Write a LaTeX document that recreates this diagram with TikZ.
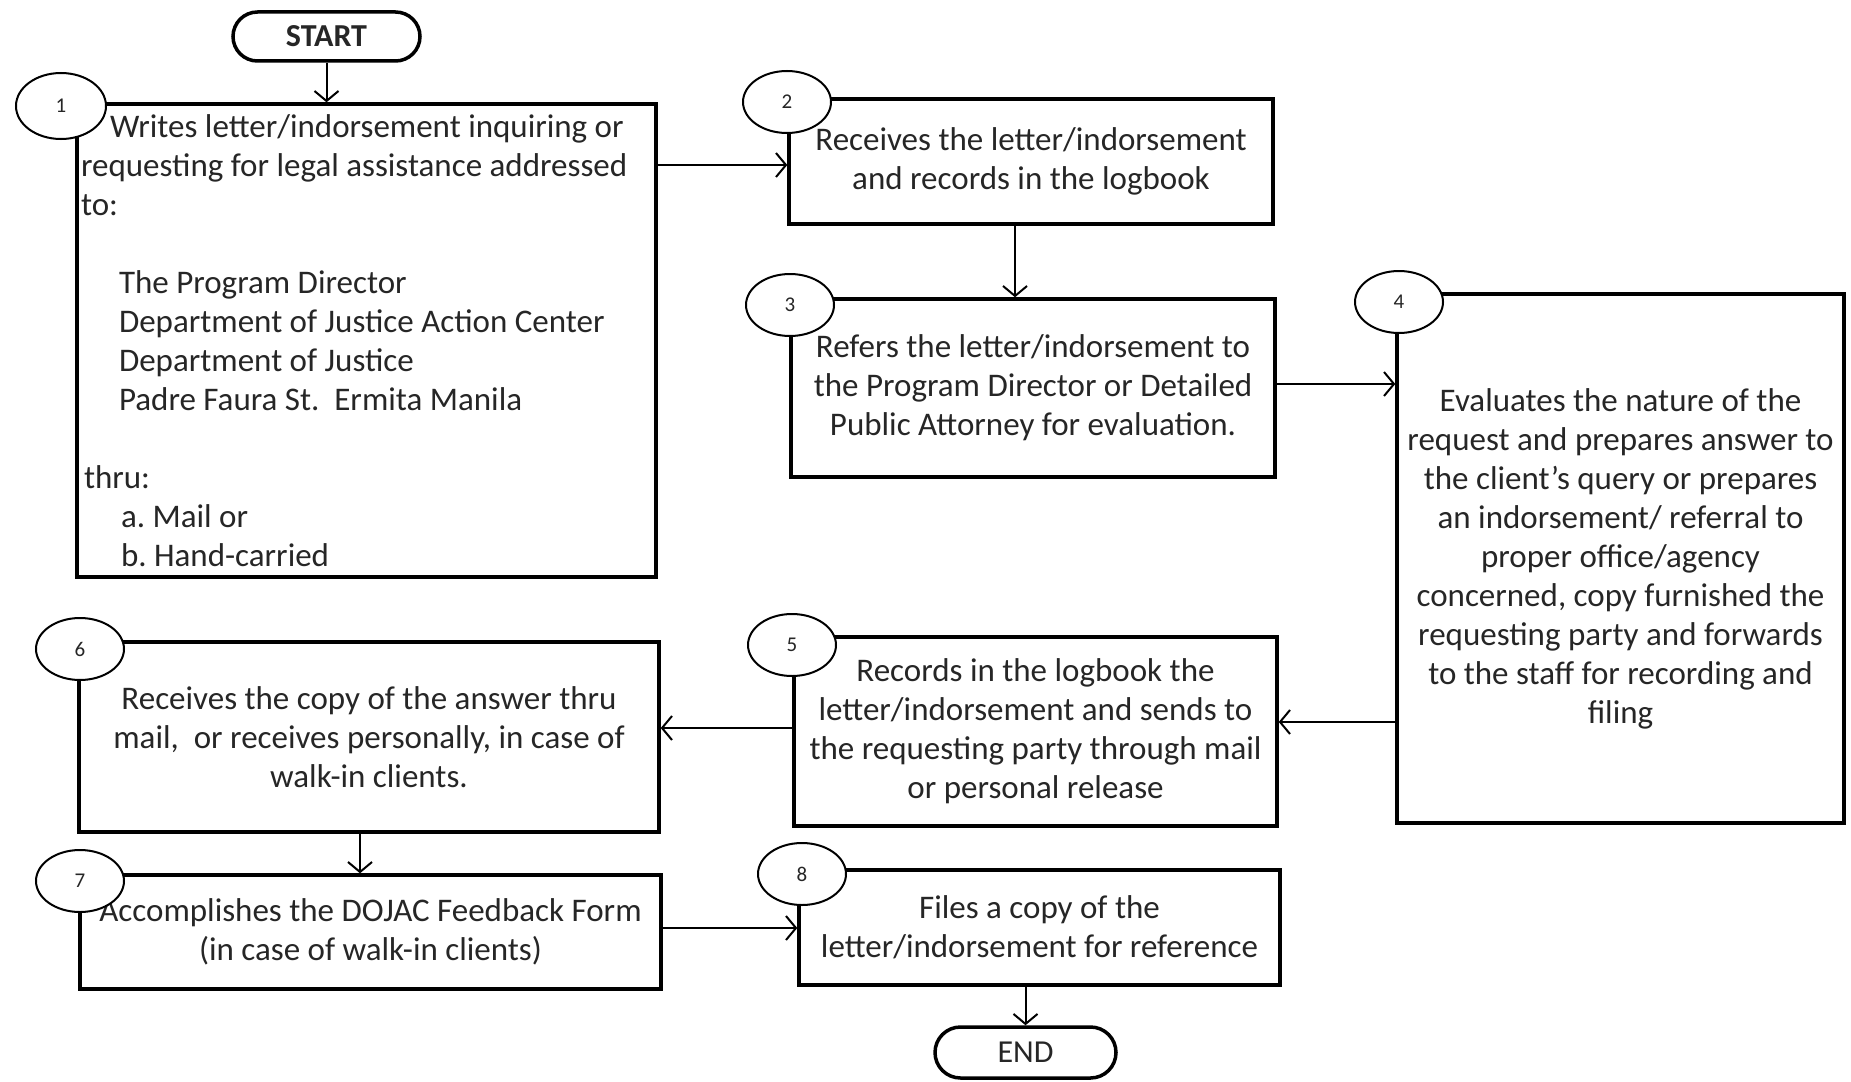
\documentclass[tikz,border=0pt]{standalone}
\usepackage{fontspec}
\setmainfont{Carlito}
\usetikzlibrary{arrows.meta,shapes.geometric,shapes.misc}
\definecolor{txt}{RGB}{38,38,38}
\begin{document}
\begin{tikzpicture}[x=1pt,y=-1pt,
  box/.style={draw=black, line width=3.4pt, fill=white, inner sep=0pt, text=txt,
    font=\fontsize{33}{39}\selectfont, align=center},
  num/.style={draw=black, ellipse, line width=2pt, fill=white, minimum width=88pt,
    minimum height=62pt, inner sep=0pt, text=txt, font=\fontsize{21}{21}\selectfont},
  term/.style={draw=black, rounded rectangle, line width=3.5pt, fill=white, inner sep=0pt,
    text=txt, font=\fontsize{32}{32}\selectfont},
  flow/.style={draw=black, line width=2pt, -{Straight Barb[length=10pt,width=24pt]}}]
\useasboundingbox[fill=white] (0,0) rectangle (1851,1081);

% terminals
\node[term, font=\fontsize{32}{32}\selectfont\bfseries, minimum width=187pt, minimum height=49pt] (st) at (326.5,36.5) {START};
\node[term, minimum width=181pt, minimum height=51pt] (en) at (1025.5,1052.5) {END};

% boxes
\node[box, minimum width=579pt, minimum height=473pt, align=left, text width=571pt] (b1) at (366.5,340.5)
 {\spaceskip=0pt\xspaceskip=0pt\frenchspacing
  \hspace*{29pt}Writes letter/indorsement inquiring or\\
  requesting for legal assistance addressed\\
  to:\\
  \mbox{}\\
  \hspace*{38pt}The Program Director\\
  \hspace*{38pt}Department of Justice Action Center\\
  \hspace*{38pt}Department of Justice\\
  \hspace*{38pt}Padre Faura St.\ \ Ermita Manila\\
  \mbox{}\\
  \hspace*{3pt}thru:\\
  \hspace*{40pt}a. Mail or\\
  \hspace*{40pt}b. Hand-carried};
\node[box, minimum width=484pt, minimum height=125pt] (b2) at (1031,161.5)
 {Receives the letter/indorsement\\and records in the logbook};
\node[box, minimum width=484pt, minimum height=178pt] (b3) at (1033,388)
 {Refers the letter/indorsement to\\the Program Director or Detailed\\Public Attorney for evaluation.};
\node[box, minimum width=447pt, minimum height=529pt] (b4) at (1620.5,558.5)
 {Evaluates the nature of the\\request and prepares answer to\\the client's query or prepares\\an indorsement/ referral to\\proper office/agency\\concerned, copy furnished the\\requesting party and forwards\\to the staff for recording and\\filing};
\node[box, minimum width=483pt, minimum height=189pt] (b5) at (1035.5,731.5)
 {Records in the logbook the\\letter/indorsement and sends to\\the requesting party through mail\\or personal release};
\node[box, minimum width=580pt, minimum height=190pt] (b6) at (369,737)
 {Receives the copy of the answer thru\\mail,\ \ or receives personally, in case of\\walk-in clients.};
\node[box, minimum width=581pt, minimum height=114pt] (b7) at (370.5,932)
 {Accomplishes the DOJAC Feedback Form\\(in case of walk-in clients)};
\node[box, minimum width=481pt, minimum height=115pt] (b8) at (1039.5,927.5)
 {Files a copy of the\\letter/indorsement for reference};

% step numbers
\node[num, minimum width=90pt, minimum height=66pt] (c1) at (61,106) {1};
\node[num] (c2) at (787,102) {2};
\node[num] (c3) at (790,305) {3};
\node[num] (c4) at (1399,302) {4};
\node[num] (c5) at (792,645) {5};
\node[num] (c6) at (80,649) {6};
\node[num] (c7) at (80,881) {7};
\node[num] (c8) at (802,874) {8};

% helper coordinates for connector heights / columns
\coordinate (y12) at (0,165);
\coordinate (x23) at (1015,0);
\coordinate (y34) at (0,384);
\coordinate (y45) at (0,722);
\coordinate (y56) at (0,728);
\coordinate (x67) at (360,0);
\coordinate (y78) at (0,928);

% connectors
\draw[flow] (st.south) -- (st.south |- b1.north);
\draw[flow] (b1.east |- y12) -- (b2.west |- y12);
\draw[flow] (b2.south -| x23) -- (b3.north -| x23);
\draw[flow] (b3.east |- y34) -- (b4.west |- y34);
\draw[flow] (b4.west |- y45) -- (b5.east |- y45);
\draw[flow] (b5.west |- y56) -- (b6.east |- y56);
\draw[flow] (b6.south -| x67) -- (b7.north -| x67);
\draw[flow] (b7.east |- y78) -- (b8.west |- y78);
\draw[flow] (b8.south -| en.north) -- (en.north);
\end{tikzpicture}
\end{document}
